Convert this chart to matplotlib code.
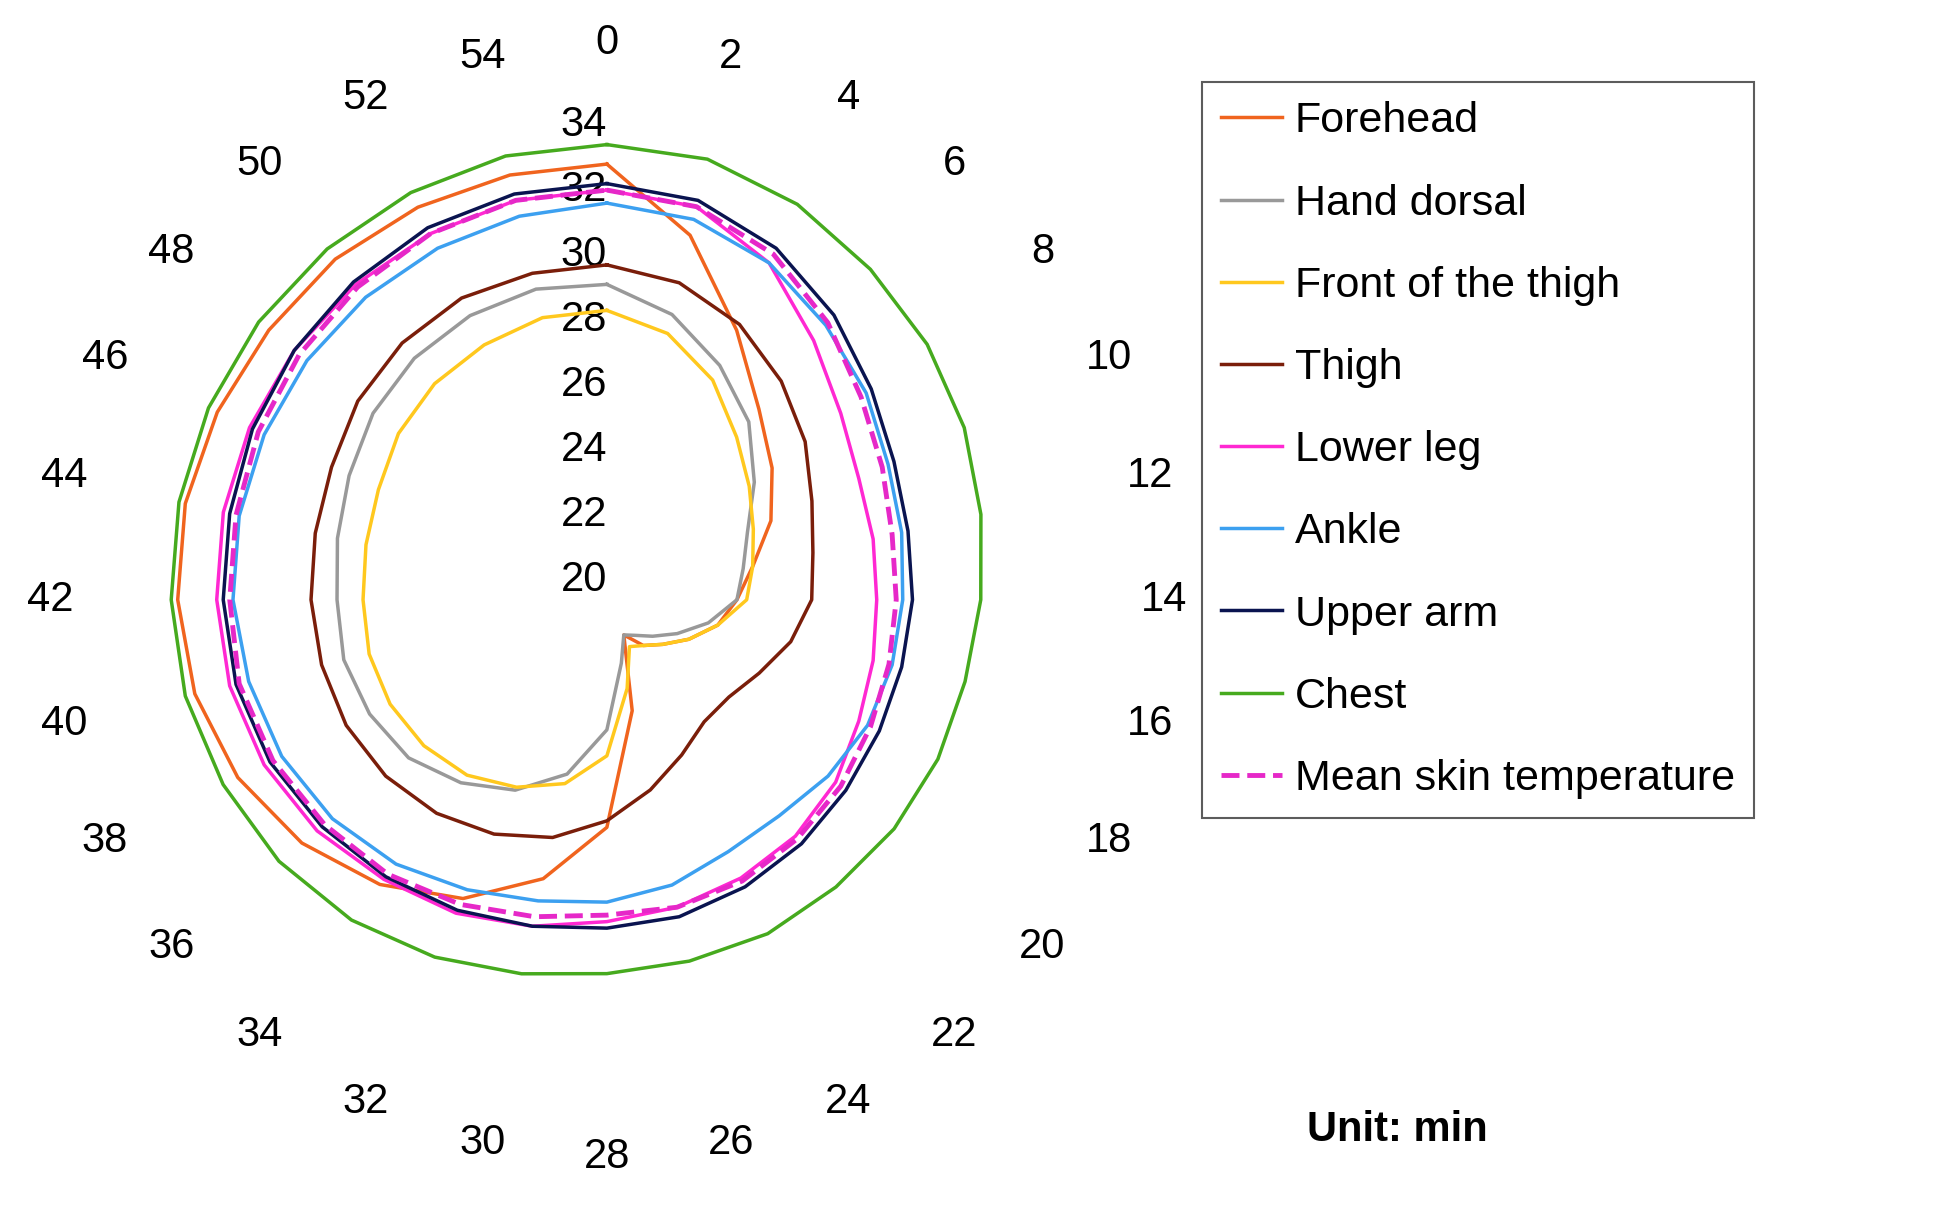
import numpy as np
import matplotlib.pyplot as plt

plt.rcParams["font.family"] = ["Liberation Sans", "DejaVu Sans"]

minutes = list(range(0, 56, 2))

forehead = [33.4, 31.5, 29.2, 27.5, 26.5, 25.6, 24.6, 24.0, 23.5, 22.8, 22.2, 21.8, 21.2, 23.5,
            27.0, 28.8, 30.2, 31.2, 32.0, 32.6, 33.0, 33.2, 33.3, 33.3, 33.3, 33.4, 33.4, 33.4]
hand_dorsal = [29.7, 29.0, 28.0, 27.0, 25.8, 24.8, 24.3, 24.0, 23.2, 22.4, 21.8, 21.4, 21.2, 22.0,
               24.0, 25.5, 26.5, 27.2, 27.8, 28.1, 28.3, 28.3, 28.5, 28.8, 29.2, 29.5, 29.7, 29.8]
front_thigh = [28.9, 28.4, 27.5, 26.4, 25.6, 25.0, 24.6, 24.3, 23.5, 22.8, 22.2, 21.8, 21.6, 22.8,
               24.8, 25.8, 26.4, 26.9, 27.2, 27.4, 27.5, 27.5, 27.6, 27.8, 28.2, 28.5, 28.7, 28.9]
thigh = [30.3, 30.0, 29.4, 28.6, 27.8, 27.0, 26.5, 26.3, 25.8, 25.2, 24.8, 24.8, 25.3, 26.0,
         26.8, 27.5, 28.0, 28.4, 28.7, 28.9, 29.0, 29.1, 29.2, 29.4, 29.8, 30.1, 30.3, 30.3]
lower_leg = [32.6, 32.4, 31.5, 30.2, 29.2, 28.6, 28.4, 28.3, 28.4, 28.6, 29.0, 29.3, 29.5, 29.7,
             29.9, 30.3, 30.7, 31.0, 31.4, 31.7, 31.9, 32.0, 32.1, 32.2, 32.3, 32.4, 32.5, 32.6]
ankle = [32.2, 32.0, 31.5, 30.8, 30.2, 29.6, 29.3, 29.1, 29.0, 28.9, 28.7, 28.5, 28.6, 29.0,
         29.3, 29.5, 29.9, 30.4, 30.8, 31.1, 31.3, 31.5, 31.6, 31.7, 31.8, 31.9, 32.0, 32.1]
upper_arm = [32.8, 32.6, 32.0, 31.2, 30.4, 29.8, 29.5, 29.4, 29.3, 29.3, 29.4, 29.6, 29.8, 30.0,
             30.1, 30.3, 30.6, 30.9, 31.2, 31.5, 31.7, 31.8, 31.9, 32.1, 32.3, 32.5, 32.7, 32.8]
chest = [34.0, 33.9, 33.5, 33.0, 32.6, 32.2, 31.8, 31.5, 31.3, 31.3, 31.3, 31.3, 31.4, 31.4,
         31.5, 31.8, 32.2, 32.6, 32.9, 33.1, 33.3, 33.4, 33.5, 33.6, 33.7, 33.8, 33.9, 34.0]
mean_skin = [32.6, 32.4, 31.8, 30.9, 30.0, 29.4, 29.0, 28.9, 28.9, 29.0, 29.2, 29.4, 29.6, 29.7,
             29.7, 30.0, 30.4, 30.8, 31.1, 31.4, 31.6, 31.6, 31.7, 31.9, 32.1, 32.3, 32.5, 32.6]

series = [
    ("Forehead", forehead, "#f0641e", "-"),
    ("Hand dorsal", hand_dorsal, "#999999", "-"),
    ("Front of the thigh", front_thigh, "#ffc81e", "-"),
    ("Thigh", thigh, "#7a1e0a", "-"),
    ("Lower leg", lower_leg, "#ff28d2", "-"),
    ("Ankle", ankle, "#3ca0f0", "-"),
    ("Upper arm", upper_arm, "#0a1450", "-"),
    ("Chest", chest, "#46aa1e", "-"),
    ("Mean skin temperature", mean_skin, "#e628c8", "--"),
]

fig = plt.figure(figsize=(19.42, 12.24), dpi=100)
ax = fig.add_axes([0.0445, 0.085, 0.536, 0.85], projection="polar")
ax.set_theta_zero_location("N")
ax.set_theta_direction(-1)

theta = np.deg2rad(np.arange(len(minutes)) * 360 / len(minutes))
theta_c = np.append(theta, theta[0])
for name, vals, color, ls in series:
    v = np.append(vals, vals[0])
    ax.plot(theta_c, v, color=color, ls=ls, lw=3.5 if ls == "--" else 2.5, label=name)

ax.set_ylim(20, 36)
ax.set_yticks(range(20, 35, 2))
ax.set_yticklabels([str(t) for t in range(20, 35, 2)], fontsize=30)
ax.set_rlabel_position(0)
for lbl in ax.get_yticklabels():
    lbl.set_horizontalalignment("right")
ax.set_xticks(theta)
ax.set_xticklabels([str(m) for m in minutes], fontsize=30)
ax.tick_params(axis="x", pad=16)
ax.grid(False)
ax.spines["polar"].set_visible(False)

leg = fig.legend(loc="upper left", bbox_to_anchor=(0.619, 0.933), fontsize=31,
                 handlelength=1.4, labelspacing=0.98, fancybox=False, edgecolor="#333333",
                 borderpad=0.45, handletextpad=0.3, borderaxespad=0)
leg.get_frame().set_linewidth(1.5)
fig.text(0.673, 0.077, "Unit: min", fontsize=30, fontweight="bold", ha="left", va="center")

fig.savefig("out.png", dpi=100)
